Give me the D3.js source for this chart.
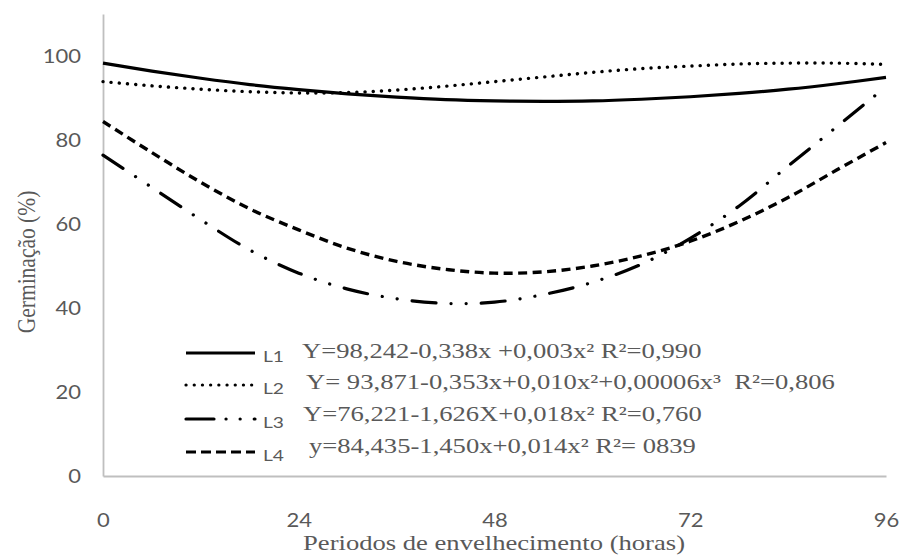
<!DOCTYPE html>
<html>
<head>
<meta charset="utf-8">
<script src="https://cdn.jsdelivr.net/npm/d3@7"></script>
<style>
  html, body { margin: 0; padding: 0; background: #fff; }
  svg { display: block; }
</style>
</head>
<body>
<div id="chart"></div>
<script>
// ---- data ----
const hours = [0, 6, 12, 18, 24, 30, 36, 42, 48, 54, 60, 66, 72, 78, 84, 90, 96];
const L1 = [98.3, 96.4, 94.7, 93.2, 92.0, 91.0, 90.2, 89.6, 89.3, 89.2, 89.3, 89.7, 90.3, 91.1, 92.1, 93.4, 94.9];
const L2 = [93.9, 92.9, 92.1, 91.5, 91.2, 91.3, 91.9, 92.8, 93.9, 95.0, 96.1, 97.0, 97.6, 98.1, 98.3, 98.3, 98.0];
const L3 = [76.4, 68.7, 61.0, 53.8, 48.3, 44.5, 42.2, 41.1, 41.4, 43.2, 46.1, 50.4, 56.6, 64.3, 73.8, 83.2, 92.7];
const L4 = [84.4, 77.0, 69.9, 63.6, 58.6, 54.2, 51.1, 49.2, 48.3, 48.6, 50.0, 52.4, 55.9, 60.6, 66.3, 72.9, 79.4];
const seriesNames = ["L1", "L2", "L3", "L4"];
const equations = [
  "Y=98,242-0,338x +0,003x² R²=0,990",
  "Y= 93,871-0,353x+0,010x²+0,00006x³  R²=0,806",
  "Y=76,221-1,626X+0,018x² R²=0,760",
  "y=84,435-1,450x+0,014x² R²= 0839"
];
const xTicks = [0, 24, 48, 72, 96];
const yTicks = [0, 20, 40, 60, 80, 100];
const xTitle = "Periodos de envelhecimento (horas)";
const yTitle = "Germinação (%)";

// ---- layout ----
const W = 899, H = 556;
const svg = d3.select("#chart").append("svg").attr("width", W).attr("height", H);

const x = d3.scaleLinear().domain([0, 96]).range([103, 886]);
const y = d3.scaleLinear().domain([0, 110]).range([476, 14]);

const grey = "#595959";
const axisGrey = "#bfbfbf";
const sans = "Lato, 'Open Sans', sans-serif";
const serif = "'Liberation Serif', 'Times New Roman', serif";
const kSerif = 1.21;   // reference text is horizontally widened
const kTick = 1.1;
const kLeg = 1.2;

// axes
const yAxis = svg.append("g").attr("transform", `translate(${x(0)},0)`)
  .call(d3.axisLeft(y).tickValues(yTicks).tickSize(0));
const xAxis = svg.append("g").attr("transform", `translate(0,${y(0)})`)
  .call(d3.axisBottom(x).tickValues(xTicks).tickSize(0));
[yAxis, xAxis].forEach(g => {
  g.select(".domain").attr("stroke", axisGrey).attr("stroke-width", 1.8);
  g.selectAll("text").attr("fill", grey).attr("font-family", sans).attr("font-size", 20)
    .attr("transform", `scale(${kTick},1)`);
});
yAxis.selectAll("text").attr("x", -22 / kTick);
xAxis.selectAll("text").attr("y", 44).attr("dy", "0.35em");

// axis titles
svg.append("g").attr("transform", `translate(494,550) scale(${kSerif},1)`)
  .append("text")
  .attr("text-anchor", "middle")
  .attr("font-family", serif).attr("font-size", 22).attr("fill", grey)
  .text(xTitle);
svg.append("g").attr("transform", `translate(26,262) rotate(-90) scale(1,${kSerif})`)
  .append("text")
  .attr("dy", "0.33em")
  .attr("text-anchor", "middle")
  .attr("font-family", serif).attr("font-size", 21.5).attr("fill", grey)
  .text(yTitle);

// line styles
const styles = [
  { dash: null, cap: "butt", w: 3.2 },
  { dash: "0.1 8.1", cap: "round", w: 3.4 },
  { dash: "24 15 0.1 15 0.1 15", cap: "round", w: 3.2 },
  { dash: "9 5.5", cap: "butt", w: 3.4 }
];
const values = [L1, L2, L3, L4];

const line = d3.line()
  .x(d => x(d[0]))
  .y(d => y(d[1]))
  .curve(d3.curveCatmullRom.alpha(0.5));

values.forEach((vals, i) => {
  const pts = hours.map((h, k) => [h, vals[k]]);
  const s = styles[i];
  svg.append("path")
    .attr("d", line(pts))
    .attr("fill", "none")
    .attr("stroke", "#000")
    .attr("stroke-width", s.w)
    .attr("stroke-linecap", s.cap)
    .attr("stroke-dasharray", s.dash);
});

// legend
const legY = [353, 385, 419, 452];
const eqBase = [358, 389, 421, 453];
const eqX = [302, 306, 303, 309];
const legendStyles = [
  { dash: null, cap: "butt" },
  { dash: "0.1 8.1", cap: "round" },
  { dash: "28 12 0.1 14 0.1 14", cap: "round" },
  { dash: "10 5", cap: "butt" }
];
seriesNames.forEach((name, i) => {
  const g = svg.append("g");
  const ls = legendStyles[i];
  g.append("line")
    .attr("x1", 186).attr("x2", 255)
    .attr("y1", legY[i]).attr("y2", legY[i])
    .attr("stroke", "#000").attr("stroke-width", 3.2)
    .attr("stroke-linecap", ls.cap)
    .attr("stroke-dasharray", ls.dash);
  g.append("g").attr("transform", `translate(263,${legY[i] + 9}) scale(${kLeg},1)`)
    .append("text")
    .attr("font-family", sans).attr("font-size", 16).attr("fill", grey)
    .text(name);
  g.append("g").attr("transform", `translate(${eqX[i]},${eqBase[i]}) scale(${kSerif},1)`)
    .append("text")
    .attr("font-family", serif).attr("font-size", 22).attr("fill", grey)
    .attr("xml:space", "preserve")
    .style("white-space", "pre")
    .text(equations[i]);
});
</script>
</body>
</html>
